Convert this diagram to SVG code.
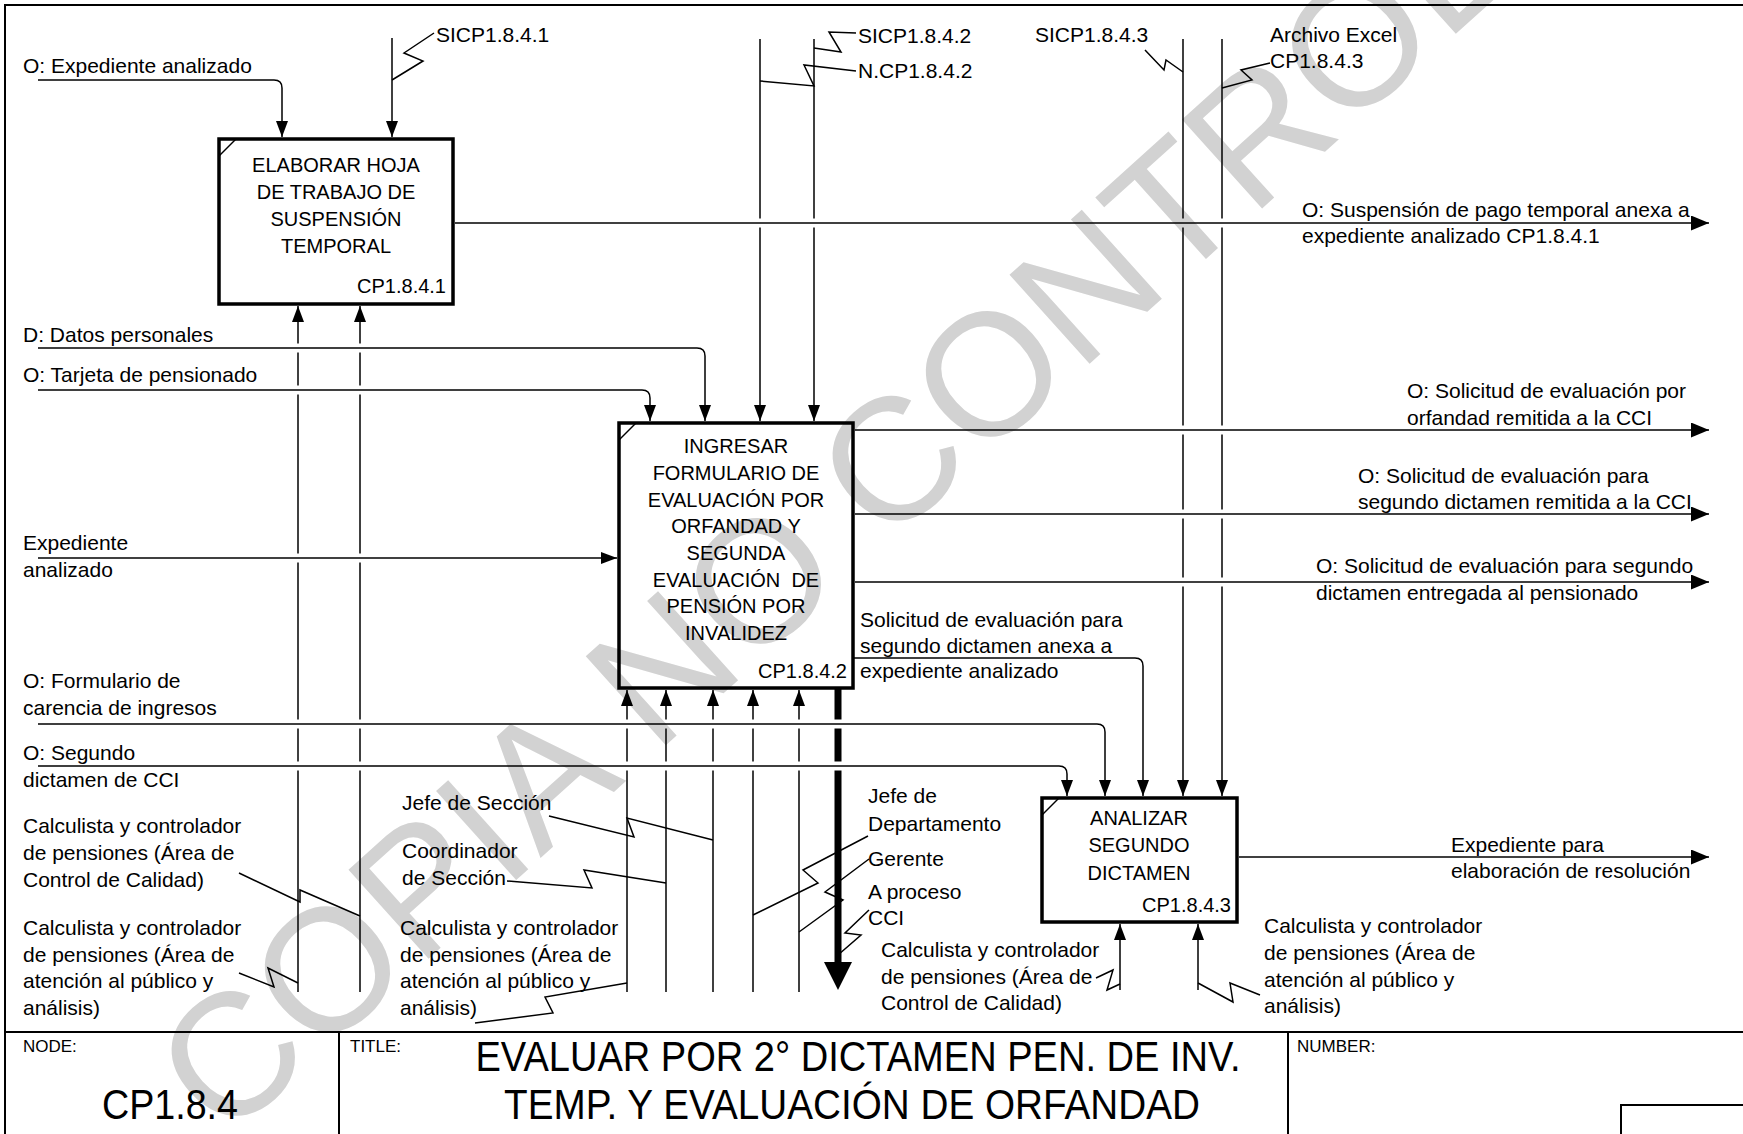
<svg xmlns="http://www.w3.org/2000/svg" width="1743" height="1134" viewBox="0 0 1743 1134">
<style>
.t{font-family:"Liberation Sans",Arial,sans-serif;font-size:21px;fill:#000}
.bx{font-family:"Liberation Sans",Arial,sans-serif;font-size:20px;fill:#000}
.s{font-family:"Liberation Sans",Arial,sans-serif;font-size:17px;fill:#000}
.big{font-family:"Liberation Sans",Arial,sans-serif;font-size:42px;fill:#000}
.m{text-anchor:middle}
.e{text-anchor:end}
.ln{fill:none;stroke:#000;stroke-width:1.5}
.box{fill:none;stroke:#000;stroke-width:3.5}
.fr{fill:none;stroke:#000;stroke-width:2}
.wm{font-family:"Liberation Sans",Arial,sans-serif;font-size:174px;fill:#d2d2d2}
</style>
<defs>
<marker id="a" markerUnits="userSpaceOnUse" markerWidth="16" markerHeight="12" refX="16" refY="6" orient="auto"><path d="M0,0L16,6L0,12z" fill="#000"/></marker>
<marker id="b" markerUnits="userSpaceOnUse" markerWidth="18" markerHeight="15" refX="18" refY="7.5" orient="auto"><path d="M0,0L18,7.5L0,15z" fill="#000"/></marker>
<mask id="gaps" maskUnits="userSpaceOnUse" x="0" y="0" width="1743" height="1134">
<rect width="1743" height="1134" fill="#fff"/>
<path d="M38,348H700M38,390H645M38,558H610M38,724H1097M38,766H1059M460,223H1700M860,430H1700M860,514H1700M860,582H1700" stroke="#000" stroke-width="9" fill="none"/>
</mask>
</defs>
<rect width="1743" height="1134" fill="#fff"/>
<text class="wm" transform="translate(224,1143) rotate(-42)">COPIA NO CONTROLADA</text>

<g id="frame">
<path class="fr" d="M5,1134V5H1743"/>
<path class="fr" d="M5,1032H1743M339,1032V1134M1288,1032V1134M1621,1134V1105H1743"/>
<text class="s" x="23" y="1052">NODE:</text>
<text class="big m" x="170" y="1119" textLength="136" lengthAdjust="spacingAndGlyphs">CP1.8.4</text>
<text class="s" x="350" y="1052">TITLE:</text>
<text class="big m" x="858" y="1071" textLength="765" lengthAdjust="spacingAndGlyphs">EVALUAR POR 2° DICTAMEN PEN. DE INV.</text>
<text class="big m" x="852" y="1119" textLength="696" lengthAdjust="spacingAndGlyphs">TEMP. Y EVALUACIÓN DE ORFANDAD</text>
<text class="s" x="1297" y="1052">NUMBER:</text>
</g>

<g id="connectors">
<g mask="url(#gaps)">
<path class="ln" marker-end="url(#a)" d="M392,38V137"/>
<path class="ln" marker-end="url(#a)" d="M760,39V421"/>
<path class="ln" marker-end="url(#a)" d="M814,39V421"/>
<path class="ln" marker-end="url(#a)" d="M1183,39V796"/>
<path class="ln" marker-end="url(#a)" d="M1222,39V796"/>
<path class="ln" marker-end="url(#a)" d="M298,992V306"/>
<path class="ln" marker-end="url(#a)" d="M360,992V306"/>
<path class="ln" marker-end="url(#a)" d="M627,992V690"/>
<path class="ln" marker-end="url(#a)" d="M666,992V690"/>
<path class="ln" marker-end="url(#a)" d="M713,992V690"/>
<path class="ln" marker-end="url(#a)" d="M753,992V690"/>
<path class="ln" marker-end="url(#a)" d="M799,992V690"/>
<path d="M838,689V966" stroke="#000" stroke-width="7" fill="none"/>
</g>
<polygon points="824,962 852,962 838,990" fill="#000"/>
<path class="ln" marker-end="url(#a)" d="M1120,990V924"/>
<path class="ln" marker-end="url(#a)" d="M1198,990V924"/>
<path class="ln" marker-end="url(#a)" d="M38,80H274Q282,80 282,88V137"/>
<path class="ln" marker-end="url(#a)" d="M38,348H697Q705,348 705,356V421"/>
<path class="ln" marker-end="url(#a)" d="M38,390H642Q650,390 650,398V421"/>
<path class="ln" marker-end="url(#a)" d="M38,558H617"/>
<path class="ln" marker-end="url(#a)" d="M38,724H1097Q1105,724 1105,732V796"/>
<path class="ln" marker-end="url(#a)" d="M38,766H1059Q1067,766 1067,774V796"/>
<path class="ln" marker-end="url(#a)" d="M853,658H1135Q1143,658 1143,666V796"/>
<path class="ln" marker-end="url(#b)" d="M455,223H1709"/>
<path class="ln" marker-end="url(#b)" d="M855,430H1709"/>
<path class="ln" marker-end="url(#b)" d="M855,514H1709"/>
<path class="ln" marker-end="url(#b)" d="M855,582H1709"/>
<path class="ln" marker-end="url(#b)" d="M1239,857H1709"/>
<path class="ln" d="M392,80L423,61L404,53L434,33"/>
<path class="ln" d="M814,48L841,52L829,32L856,33"/>
<path class="ln" d="M760,81L814,86L804,65L856,71"/>
<path class="ln" d="M1145,50L1164,70L1166,60L1183,72"/>
<path class="ln" d="M1222,88L1252,80L1241,70L1270,63"/>
<path class="ln" d="M239,873L300,902L300,890L360,916"/>
<path class="ln" d="M239,973L274,987L268,968L298,983"/>
<path class="ln" d="M549,816L634,837L627,818L713,840"/>
<path class="ln" d="M507,881L592,888L584,870L666,883"/>
<path class="ln" d="M475,1023L553,1013L545,997L627,983"/>
<path class="ln" d="M868,836L803,870L818,883L753,915"/>
<path class="ln" d="M869,859L825,892L843,900L799,932"/>
<path class="ln" d="M869,910L845,933L861,935L838,955"/>
<path class="ln" d="M1096,978L1113,970L1107,990L1120,984"/>
<path class="ln" d="M1198,983L1233,1002L1230,983L1260,995"/>

<text class="t" x="23" y="73">O: Expediente analizado</text>
<text class="t" x="436" y="42">SICP1.8.4.1</text>
<text class="t" x="858" y="43">SICP1.8.4.2</text>
<text class="t" x="858" y="78">N.CP1.8.4.2</text>
<text class="t" x="1035" y="42">SICP1.8.4.3</text>
<text class="t" x="1270" y="42">Archivo Excel</text>
<text class="t" x="1270" y="68">CP1.8.4.3</text>
<text class="t" x="1302" y="217">O: Suspensión de pago temporal anexa a</text>
<text class="t" x="1302" y="243">expediente analizado CP1.8.4.1</text>
<text class="t" x="23" y="342">D: Datos personales</text>
<text class="t" x="23" y="382">O: Tarjeta de pensionado</text>
<text class="t" x="23" y="550">Expediente</text>
<text class="t" x="23" y="577">analizado</text>
<text class="t" x="23" y="688">O: Formulario de</text>
<text class="t" x="23" y="715">carencia de ingresos</text>
<text class="t" x="23" y="760">O: Segundo</text>
<text class="t" x="23" y="787">dictamen de CCI</text>
<text class="t" x="23" y="833">Calculista y controlador</text>
<text class="t" x="23" y="860">de pensiones (Área de</text>
<text class="t" x="23" y="887">Control de Calidad)</text>
<text class="t" x="23" y="935">Calculista y controlador</text>
<text class="t" x="23" y="962">de pensiones (Área de</text>
<text class="t" x="23" y="988">atención al público y</text>
<text class="t" x="23" y="1015">análisis)</text>
<text class="t" x="402" y="810">Jefe de Sección</text>
<text class="t" x="402" y="858">Coordinador</text>
<text class="t" x="402" y="885">de Sección</text>
<text class="t" x="400" y="935">Calculista y controlador</text>
<text class="t" x="400" y="962">de pensiones (Área de</text>
<text class="t" x="400" y="988">atención al público y</text>
<text class="t" x="400" y="1015">análisis)</text>
<text class="t" x="868" y="803">Jefe de</text>
<text class="t" x="868" y="831">Departamento</text>
<text class="t" x="868" y="866">Gerente</text>
<text class="t" x="868" y="899">A proceso</text>
<text class="t" x="868" y="925">CCI</text>
<text class="t" x="860" y="627">Solicitud de evaluación para</text>
<text class="t" x="860" y="653">segundo dictamen anexa a</text>
<text class="t" x="860" y="678">expediente analizado</text>
<text class="t" x="881" y="957">Calculista y controlador</text>
<text class="t" x="881" y="984">de pensiones (Área de</text>
<text class="t" x="881" y="1010">Control de Calidad)</text>
<text class="t" x="1264" y="933">Calculista y controlador</text>
<text class="t" x="1264" y="960">de pensiones (Área de</text>
<text class="t" x="1264" y="987">atención al público y</text>
<text class="t" x="1264" y="1013">análisis)</text>
<text class="t" x="1407" y="398">O: Solicitud de evaluación por</text>
<text class="t" x="1407" y="425">orfandad remitida a la CCI</text>
<text class="t" x="1358" y="483">O: Solicitud de evaluación para</text>
<text class="t" x="1358" y="509">segundo dictamen remitida a la CCI</text>
<text class="t" x="1316" y="573">O: Solicitud de evaluación para segundo</text>
<text class="t" x="1316" y="600">dictamen entregada al pensionado</text>
<text class="t" x="1451" y="852">Expediente para</text>
<text class="t" x="1451" y="878">elaboración de resolución</text>
</g>

<g id="node-cp1841">
<rect class="box" x="219" y="139" width="234" height="165"/>
<path class="ln" d="M219,156L236,139"/>
<text class="bx m" x="336" y="172">ELABORAR HOJA</text>
<text class="bx m" x="336" y="199">DE TRABAJO DE</text>
<text class="bx m" x="336" y="226">SUSPENSIÓN</text>
<text class="bx m" x="336" y="253">TEMPORAL</text>
<text class="bx e" x="446" y="293">CP1.8.4.1</text>
</g>

<g id="node-cp1842">
<rect class="box" x="619" y="423" width="234" height="265"/>
<path class="ln" d="M619,440L636,423"/>
<text class="bx m" x="736" y="453">INGRESAR</text>
<text class="bx m" x="736" y="480">FORMULARIO DE</text>
<text class="bx m" x="736" y="507">EVALUACIÓN POR</text>
<text class="bx m" x="736" y="533">ORFANDAD Y</text>
<text class="bx m" x="736" y="560">SEGUNDA</text>
<text class="bx m" x="736" y="587" xml:space="preserve">EVALUACIÓN  DE</text>
<text class="bx m" x="736" y="613">PENSIÓN POR</text>
<text class="bx m" x="736" y="640">INVALIDEZ</text>
<text class="bx e" x="847" y="678">CP1.8.4.2</text>
</g>

<g id="node-cp1843">
<rect class="box" x="1042" y="798" width="195" height="124"/>
<path class="ln" d="M1042,815L1059,798"/>
<text class="bx m" x="1139" y="825">ANALIZAR</text>
<text class="bx m" x="1139" y="852">SEGUNDO</text>
<text class="bx m" x="1139" y="880">DICTAMEN</text>
<text class="bx e" x="1231" y="912">CP1.8.4.3</text>
</g>
</svg>
